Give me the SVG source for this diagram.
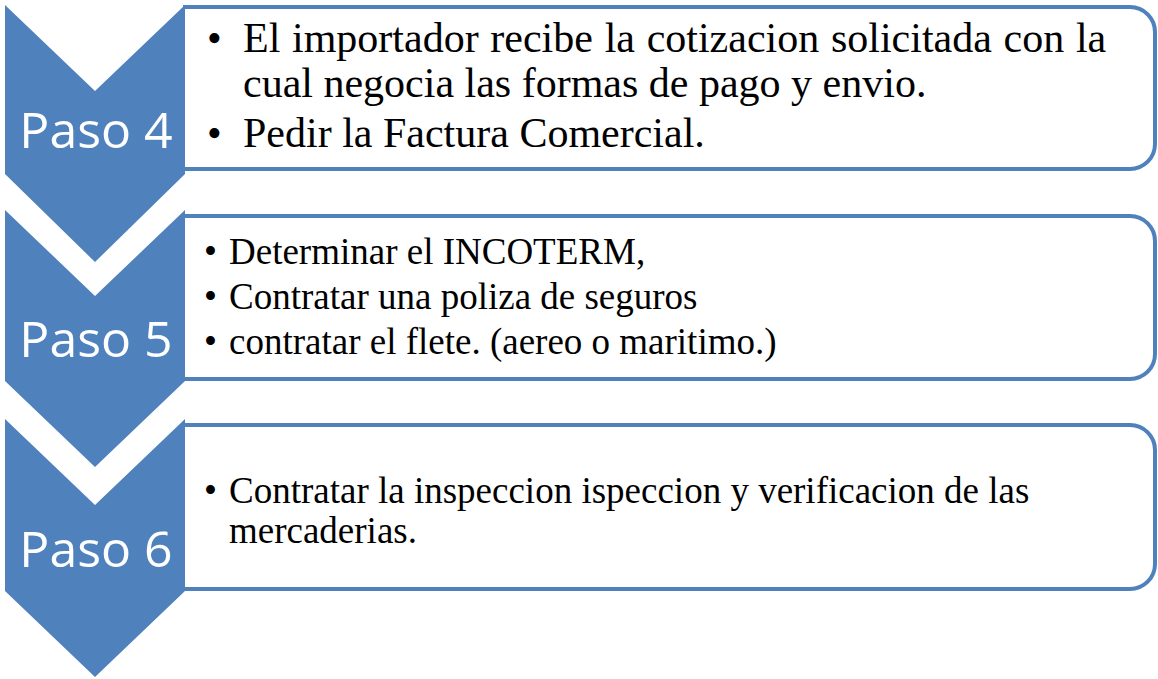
<svg xmlns="http://www.w3.org/2000/svg" width="1158" height="679" viewBox="0 0 1158 679">
  <style>
    .box { fill: #ffffff; stroke: #4f81bd; stroke-width: 4; }
    .chev { fill: #4f81bd; }
    .paso { font-family: "Open Sans", "Liberation Sans", sans-serif; font-size: 50px; fill: #ffffff; text-anchor: middle; }
    .t42 { font-family: "Liberation Serif", "DejaVu Serif", serif; font-size: 42px; fill: #000000; }
    .t37 { font-family: "Liberation Serif", "DejaVu Serif", serif; font-size: 37px; fill: #000000; }
  </style>
  <rect width="1158" height="679" fill="#ffffff"/>

  <g id="step4">
    <path class="box" d="M183,7 H1130 A25,25 0 0 1 1155,32 V144 A25,25 0 0 1 1130,169 H183"/>
    <path class="chev" d="M5,5 L95,91 L185,5 L185,174 L95,262 L5,174 Z"/>
    <text class="paso" x="96" y="148">Paso 4</text>
    <text class="t42" x="207" y="52">•</text>
    <text class="t42" x="243" y="52" word-spacing="1.2">El importador recibe la cotizacion solicitada con la</text>
    <text class="t42" x="243" y="97">cual negocia las formas de pago y envio.</text>
    <text class="t42" x="207" y="147">•</text>
    <text class="t42" x="243" y="147">Pedir la Factura Comercial.</text>
  </g>

  <g id="step5">
    <path class="box" d="M183,216 H1130 A25,25 0 0 1 1155,241 V354 A25,25 0 0 1 1130,379 H183"/>
    <path class="chev" d="M5,210 L95,296 L185,210 L185,381 L95,467 L5,381 Z"/>
    <text class="paso" x="96" y="357">Paso 5</text>
    <text class="t37" x="204" y="264">•</text>
    <text class="t37" x="229" y="264">Determinar el INCOTERM,</text>
    <text class="t37" x="204" y="309">•</text>
    <text class="t37" x="229" y="309">Contratar una poliza de seguros</text>
    <text class="t37" x="204" y="354">•</text>
    <text class="t37" x="229" y="354">contratar el flete. (aereo o maritimo.)</text>
  </g>

  <g id="step6">
    <path class="box" d="M183,425 H1130 A25,25 0 0 1 1155,450 V564 A25,25 0 0 1 1130,589 H183"/>
    <path class="chev" d="M5,419 L95,505 L185,419 L185,591 L95,677 L5,591 Z"/>
    <text class="paso" x="96" y="567">Paso 6</text>
    <text class="t37" x="204" y="503">•</text>
    <text class="t37" x="229" y="503">Contratar la inspeccion ispeccion y verificacion de las</text>
    <text class="t37" x="229" y="543">mercaderias.</text>
  </g>

  <g id="connectors"></g>
</svg>
